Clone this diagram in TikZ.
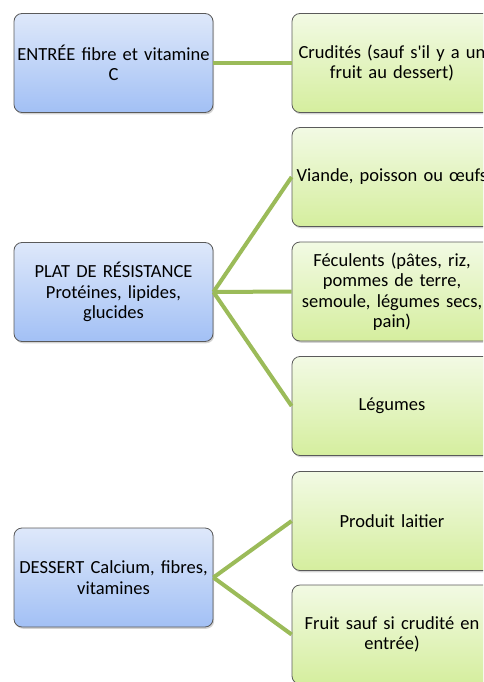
\documentclass[tikz,border=0pt]{standalone}
\usepackage{fontspec}
\setmainfont{Carlito}[Ligatures=TeXOff]
\usetikzlibrary{shadows}
\definecolor{bluetop}{HTML}{DEE8FA}
\definecolor{bluebot}{HTML}{A2C0F5}
\definecolor{greentop}{HTML}{F2FAE4}
\definecolor{greenbot}{HTML}{D5EE9E}
\definecolor{linkgreen}{HTML}{9BBB59}
\definecolor{boxedge}{HTML}{5A5A5A}
\tikzset{
  basebox/.style={rounded corners=8pt, draw=boxedge, line width=0.8pt,
    minimum width=199pt, minimum height=99pt, inner sep=0pt,
    text width=198pt, align=center, font=\fontsize{18.5}{20.5}\selectfont,
    drop shadow={shadow xshift=1.2pt, shadow yshift=-1.8pt, opacity=0.35}},
  bluebox/.style={basebox, top color=bluetop, bottom color=bluebot},
  greenbox/.style={basebox, top color=greentop, bottom color=greenbot, minimum width=200pt},
  link/.style={draw=linkgreen, line width=4pt}
}
\begin{document}
\begin{tikzpicture}[x=1pt,y=-1pt]
\useasboundingbox (0,0) rectangle (483,682);
\clip (0,0) rectangle (483,682);
\node[bluebox] (b1) at (113.5,63) {ENTRÉE fibre et vitamine\\C};
\node[bluebox] (b2) at (113.5,292) {PLAT DE RÉSISTANCE\\Protéines, lipides,\\glucides};
\node[bluebox] (b3) at (113.5,577.5) {DESSERT Calcium, fibres,\\vitamines};
\node[greenbox] (g1) at (392,63) {Crudités (sauf s'il y a un\\fruit au dessert)};
\node[greenbox] (g2) at (392,177) {Viande, poisson ou œufs};
\node[greenbox] (g3) at (392,291.5) {Féculents (pâtes, riz,\\pommes de terre,\\semoule, légumes secs,\\pain)};
\node[greenbox] (g4) at (392,406) {Légumes};
\node[greenbox] (g5) at (392,521) {Produit laitier};
\node[greenbox] (g6) at (392,634.5) {Fruit sauf si crudité en\\entrée)};
\draw[link] (b1.east) -- (g1.west);
\draw[link] (b2.east) -- (g2.west);
\draw[link] (b2.east) -- (g3.west);
\draw[link] (b2.east) -- (g4.west);
\draw[link] (b3.east) -- (g5.west);
\draw[link] (b3.east) -- (g6.west);
\end{tikzpicture}
\end{document}
